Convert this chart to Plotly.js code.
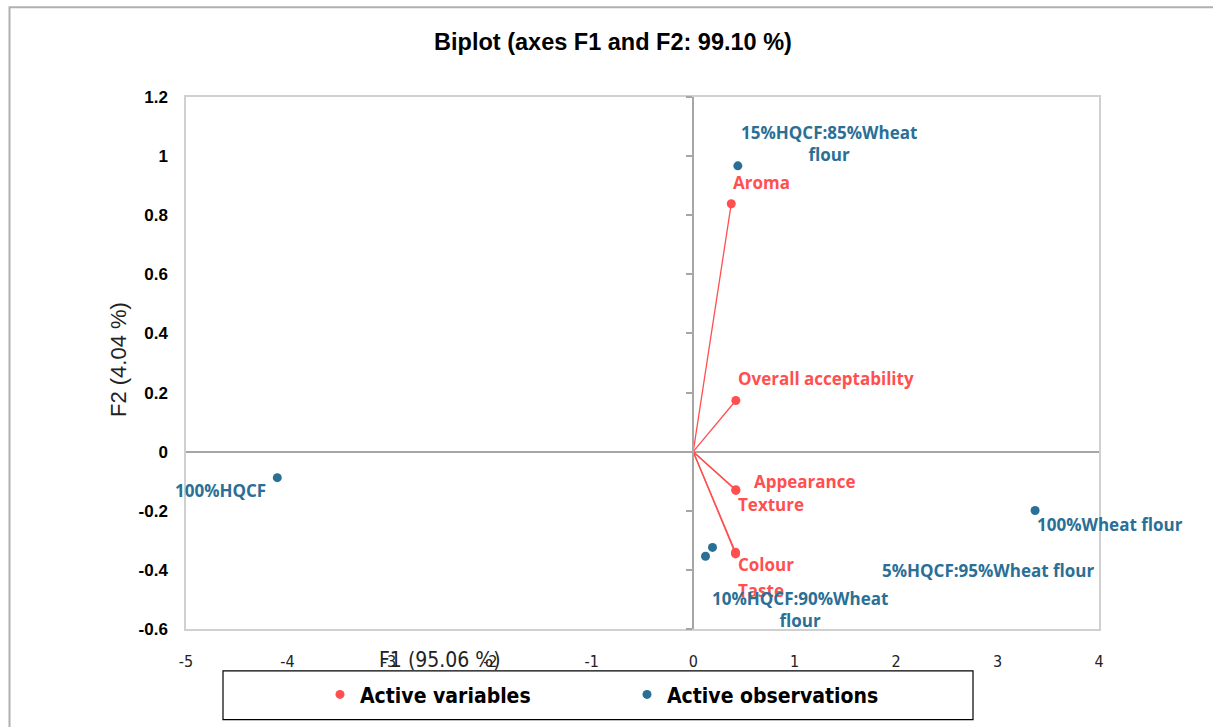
<!DOCTYPE html>
<html>
<head>
<meta charset="utf-8">
<script src="https://cdn.plot.ly/plotly-3.0.1.min.js"></script>
<style>html,body{margin:0;padding:0;background:#fff;}#chart{width:1213px;height:727px;}</style>
</head>
<body>
<div id="chart"></div>
<script>
// Active variables (F1, F2)
const varNames = ["Aroma", "Overall acceptability", "Appearance", "Texture", "Colour", "Taste"];
const varF1 = [0.375, 0.42, 0.42, 0.42, 0.417, 0.417];
const varF2 = [0.839, 0.173, -0.129, -0.131, -0.340, -0.346];

// Active observations (F1, F2)
const obsNames = ["15%HQCF:85%Wheat<br>flour", "100%HQCF", "100%Wheat flour", "5%HQCF:95%Wheat flour", "10%HQCF:90%Wheat<br>flour"];
const obsF1 = [0.44, -4.10, 3.37, 0.19, 0.121];
const obsF2 = [0.967, -0.088, -0.199, -0.324, -0.354];

// Tick labels
const xTickVals = [-5, -4, -3, -2, -1, 0, 1, 2, 3, 4];
const xTickText = ["-5", "-4", "-3", "-2", "-1", "0", "1", "2", "3", "4"];
const yTickVals = [-0.6, -0.4, -0.2, 0, 0.2, 0.4, 0.6, 0.8, 1, 1.2];
const yTickText = ["-0.6", "-0.4", "-0.2", "0", "0.2", "0.4", "0.6", "0.8", "1", "1.2"];

// label placement (pixel offsets from the point)
const varLabelOffsets = [[0, 21, "left"], [0, 22, "left"], [16, 8, "left"], [0, -14, "left"], [0, -12, "left"], [0, -37, "left"]];
const obsLabelOffsets = [[91, 22, "center"], [-9, -13, "right"], [0, -14, "left"], [276, -23, "center"], [94, -53, "center"]];

const RED = "#FF4F4F";
const BLUE = "#2A6F96";
const labelFont = "Open Sans, Liberation Sans, Arial, sans-serif";
const narrowFont = "Liberation Sans Narrow, DejaVu Sans Condensed, Arial Narrow, sans-serif";

// vector lines from origin
const lineX = [], lineY = [];
varF1.forEach((v, i) => { lineX.push(0, v, null); lineY.push(0, varF2[i], null); });

const traces = [
  {x: lineX, y: lineY, mode: "lines", line: {color: RED, width: 1.3}, showlegend: false, hoverinfo: "skip", xaxis: "x", yaxis: "y2"},
  {x: varF1, y: varF2, mode: "markers", name: "Active variables", text: varNames,
   marker: {color: RED, size: 9}, xaxis: "x", yaxis: "y"},
  {x: obsF1, y: obsF2, mode: "markers", name: "Active observations", text: obsNames,
   marker: {color: BLUE, size: 9}, xaxis: "x", yaxis: "y"}
];

const annotations = [];
varNames.forEach((n, i) => {
  annotations.push({x: varF1[i], y: varF2[i], xref: "x", yref: "y", text: n, showarrow: false,
    xanchor: varLabelOffsets[i][2], yanchor: "middle", xshift: varLabelOffsets[i][0], yshift: varLabelOffsets[i][1],
    font: {family: labelFont, size: 17, color: RED, weight: 700}});
});
obsNames.forEach((n, i) => {
  annotations.push({x: obsF1[i], y: obsF2[i], xref: "x", yref: "y", text: n, showarrow: false,
    xanchor: obsLabelOffsets[i][2], yanchor: "middle", xshift: obsLabelOffsets[i][0], yshift: obsLabelOffsets[i][1],
    font: {family: labelFont, size: 17, color: BLUE, weight: 700}});
});
// axis titles
annotations.push({xref: "paper", yref: "paper", x: (440 - 186) / 913, y: (631 - 662) / 534, text: "F1 (95.06 %)",
  showarrow: false, xanchor: "center", yanchor: "middle",
  font: {family: narrowFont, size: 21, color: "#222"}});
annotations.push({xref: "paper", yref: "paper", x: (118 - 186) / 913, y: (631 - 361) / 534, text: "F2 (4.04 %)",
  showarrow: false, textangle: -90, xanchor: "center", yanchor: "middle",
  font: {family: "Liberation Sans, Arial, sans-serif", size: 22, color: "#222"}});

const layout = {
  width: 1213, height: 727,
  margin: {l: 186, r: 114, t: 97, b: 96, pad: 0},
  paper_bgcolor: "#fff", plot_bgcolor: "#fff",
  title: {text: "Biplot (axes F1 and F2: 99.10 %)", x: 613 / 1213, xanchor: "center", y: 1 - 42 / 727, yanchor: "middle",
    font: {family: "Liberation Sans, Arial, sans-serif", size: 23.5, color: "#000", weight: 700}},
  xaxis: {range: [-5, 4], tickvals: xTickVals, ticktext: xTickText, showgrid: false,
    zeroline: false, showline: true, mirror: true, linecolor: "#D0D0D0", linewidth: 1.5,
    ticks: "", ticklabelstandoff: 17,
    tickfont: {family: narrowFont, size: 16, color: "#222"}},
  yaxis: {range: [-0.6, 1.2], tickvals: yTickVals, ticktext: yTickText, showgrid: false,
    zeroline: true, zerolinecolor: "#A6A6A6", zerolinewidth: 1.5,
    showline: true, mirror: true, linecolor: "#D0D0D0", linewidth: 1.5,
    ticks: "", ticklabelstandoff: 13,
    tickfont: {family: "Liberation Sans, Arial, sans-serif", size: 17, color: "#000", weight: 700}},
  yaxis2: {range: [-0.6, 1.2], tickvals: yTickVals, overlaying: "y", anchor: "free", position: (693 - 186) / 913,
    side: "left", showgrid: false, zeroline: false, showline: true, linecolor: "#A6A6A6", linewidth: 1.5,
    ticks: "outside", ticklen: 6, tickcolor: "#A6A6A6", tickwidth: 1.5, showticklabels: false},
  showlegend: true,
  legend: {orientation: "h", x: (320 - 186) / 913, xanchor: "left", y: (631 - 697) / 534, yanchor: "middle",
    bgcolor: "rgba(0,0,0,0)", borderwidth: 0, entrywidthmode: "pixels", entrywidth: 262,
    font: {family: narrowFont, size: 21, color: "#000", weight: 700}},
  annotations: annotations,
  shapes: [
    {type: "rect", xref: "paper", yref: "paper", x0: (9.5 - 186) / 913, x1: (1230 - 186) / 913,
      y0: (631 - 740) / 534, y1: (631 - 7) / 534, line: {color: "#B0B0B0", width: 2}, layer: "below"},
    {type: "rect", xref: "paper", yref: "paper", x0: (223 - 186) / 913, x1: (973 - 186) / 913,
      y0: (631 - 722) / 534, y1: (631 - 673) / 534, line: {color: "#000", width: 1.2}, layer: "below"}
  ],
  hovermode: "closest"
};

Plotly.newPlot("chart", traces, layout, {displayModeBar: false, responsive: false});
</script>
</body>
</html>
